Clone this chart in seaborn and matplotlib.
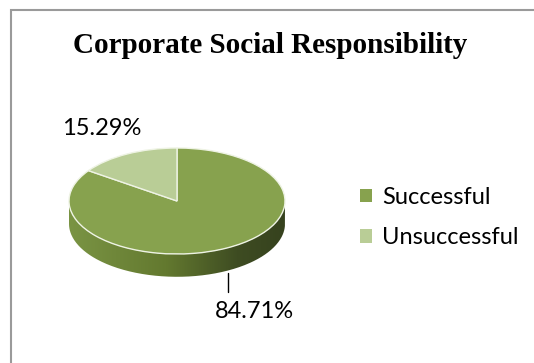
import numpy as np
import matplotlib
matplotlib.use("Agg")
import matplotlib.pyplot as plt
import seaborn as sns
from matplotlib.patches import Patch, PathPatch, Rectangle
from matplotlib.path import Path
from matplotlib.colors import LinearSegmentedColormap

# ---- data ----
categories = ["Successful", "Unsuccessful"]
values = [84.71, 15.29]
value_labels = ["84.71%", "15.29%"]
title = "Corporate Social Responsibility"
colors = ["#87a24e", "#b9cd96"]

sns.set_theme(style="white")
plt.rcParams["font.family"] = ["Lato", "DejaVu Sans"]
plt.rcParams["text.color"] = "black"

W, H = 534, 363
fig = plt.figure(figsize=(W / 100, H / 100), dpi=100)
fig.patch.set_facecolor("white")

# chart border (only top/left visible, cropped image)
fig.add_artist(Rectangle((10.5 / W, -0.1), 1.2, 1 - 10 / H + 0.1,
                         transform=fig.transFigure, fill=False,
                         edgecolor="#9a9a9a", linewidth=1.5))

# geometry of the 3-D-looking pie (pixels)
cx, cy, rx, ry = 177, 201, 108, 53
depth = 0.43
xl = (-1.25, 1.25)
yl = (-1.9, 1.5)
ax_w = (xl[1] - xl[0]) * rx
ax_h = (yl[1] - yl[0]) * ry
left_px = cx + xl[0] * rx
top_px = cy - yl[1] * ry
ax = fig.add_axes([left_px / W, 1 - (top_px + ax_h) / H, ax_w / W, ax_h / H])

wedges, _ = ax.pie(values, colors=colors, startangle=90, counterclock=False,
                   wedgeprops=dict(edgecolor="#eef3e4", linewidth=1.0, zorder=3))

# side wall of the disc
t = np.linspace(np.pi, 2 * np.pi, 300)
top = np.c_[np.cos(t), np.sin(t)]
bot = np.c_[np.cos(t[::-1]), np.sin(t[::-1]) - depth]
verts = np.vstack([top, bot, top[:1]])
side = PathPatch(Path(verts), facecolor="none", edgecolor="none", zorder=2)
ax.add_patch(side)
cmap = LinearSegmentedColormap.from_list(
    "side", [(0, "#7a9444"), (0.45, "#63792f"), (0.78, "#3e4c22"), (1, "#36421e")])
grad = np.linspace(0, 1, 256)[None, :]
im = ax.imshow(grad, cmap=cmap, extent=(-1, 1, -1 - depth, 0), aspect="auto", zorder=2)
im.set_clip_path(side)

ax.set_aspect("auto")
ax.set_xlim(*xl)
ax.set_ylim(*yl)
ax.axis("off")

# data labels
ax.text(-0.70, 1.36, value_labels[1], ha="center", va="center", fontsize=17, color="black")
ax.text(0.72, -2.08, value_labels[0], ha="center", va="center", fontsize=17, color="black")
ax.plot([0.47, 0.47], [-1.36, -1.72], color="black", lw=1.0, clip_on=False)

# title
fig.text(270 / W, 1 - 53 / H, title, ha="center", va="baseline", color="black",
         fontfamily="Liberation Serif", fontweight="bold", fontsize=21)

# legend
handles = [Patch(facecolor=c, edgecolor="none") for c in colors]
leg = fig.legend(handles, categories, loc="center left", bbox_to_anchor=(360 / W, 1 - 217.5 / H),
                 frameon=False, fontsize=17, handlelength=0.51, handleheight=0.51,
                 handletextpad=0.42, labelspacing=0.82, borderpad=0, borderaxespad=0)
for txt in leg.get_texts():
    txt.set_color("black")

fig.savefig("out.png", dpi=100, facecolor="white")
